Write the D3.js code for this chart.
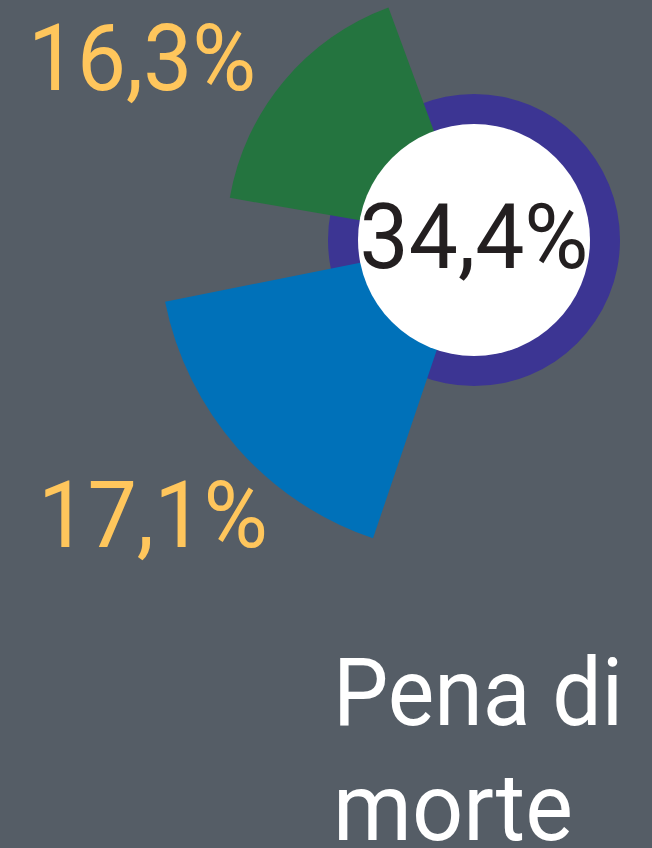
<!DOCTYPE html>
<html>
<head>
<meta charset="utf-8">
<script src="https://cdn.jsdelivr.net/npm/d3@7"></script>
<style>
  html, body { margin: 0; padding: 0; background: #555d66; }
  svg { display: block; }
  text { font-family: Roboto, "Liberation Sans", sans-serif; }
</style>
</head>
<body>
<div id="chart"></div>
<script>
// data
var categories = ['b', 'a'];
var values = [17.1, 16.3];
var valueLabels = ['17,1%', '16,3%'];
var colors = ['#0071b9', '#24743f'];
var totalValue = 34.4;
var totalLabel = '34,4%';
var titleLines = ['Pena di', 'morte'];

var width = 652, height = 848;
var cx = 474, cy = 240;
var ringOuter = 146, ringInner = 116;

var svg = d3.select('#chart').append('svg')
            .attr('width', width)
            .attr('height', height);

svg.append('rect')
   .attr('width', width)
   .attr('height', height)
   .attr('fill', '#555d66');

var g = svg.append('g').attr('transform', 'translate(' + cx + ',' + cy + ')');

var deg = Math.PI / 180;
var angle = d3.scaleBand()
              .domain(categories)
              .range([-161.3 * deg, -20.2 * deg])
              .paddingInner(0.26)
              .paddingOuter(0);

var radius = d3.scaleLinear()
               .domain([13.35, 17.1])
               .range([0, 315]);

// purple ring behind the wedges
g.append('circle')
 .attr('r', ringOuter)
 .attr('fill', '#3c3593');

var arc = d3.arc()
            .innerRadius(0)
            .outerRadius(function(d) { return radius(d.v); })
            .startAngle(function(d) { return angle(d.c); })
            .endAngle(function(d) { return angle(d.c) + angle.bandwidth(); });

var wedgeData = categories.map(function(c, i) {
  return { c: c, v: values[i], label: valueLabels[i], color: colors[i] };
});

g.selectAll('path.wedge')
 .data(wedgeData)
 .enter()
 .append('path')
 .attr('class', 'wedge')
 .attr('d', arc)
 .attr('fill', function(d) { return d.color; });

// white hole
g.append('circle')
 .attr('r', ringInner)
 .attr('fill', '#ffffff');

g.append('text')
 .attr('x', 0)
 .attr('y', 28)
 .attr('text-anchor', 'middle')
 .attr('font-size', 91)
 .attr('textLength', 229)
 .attr('lengthAdjust', 'spacingAndGlyphs')
 .attr('fill', '#231f20')
 .text(totalLabel);

// value labels
var labelPos = [[38, 547], [28, 90]];
svg.selectAll('text.val')
   .data(wedgeData)
   .enter()
   .append('text')
   .attr('class', 'val')
   .attr('x', function(d, i) { return labelPos[i][0]; })
   .attr('y', function(d, i) { return labelPos[i][1]; })
   .attr('font-size', 92)
   .attr('textLength', function(d, i) { return i === 0 ? 230 : 228; })
   .attr('lengthAdjust', 'spacingAndGlyphs')
   .attr('fill', '#ffc65c')
   .text(function(d) { return d.label; });

// title
svg.selectAll('text.title')
   .data(titleLines)
   .enter()
   .append('text')
   .attr('class', 'title')
   .attr('x', 333)
   .attr('y', function(d, i) { return 725 + i * 115; })
   .attr('font-size', 94)
   .attr('textLength', function(d, i) { return i === 0 ? 290 : 240; })
   .attr('lengthAdjust', 'spacingAndGlyphs')
   .attr('fill', '#ffffff')
   .text(function(d) { return d; });
</script>
</body>
</html>
